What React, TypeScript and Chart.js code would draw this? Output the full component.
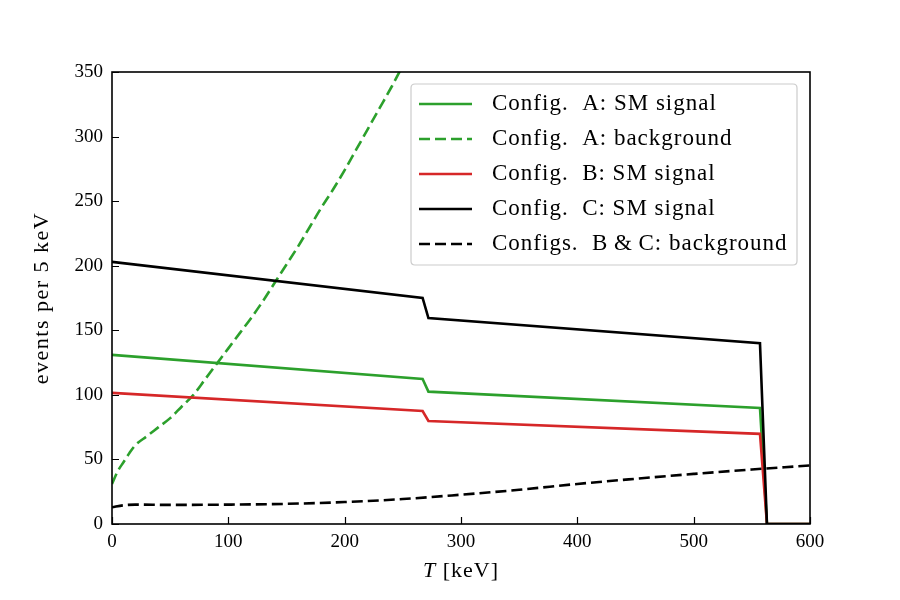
import React, { useEffect, useRef } from "react";
import { Chart, registerables } from "chart.js";

Chart.register(...registerables);

// Recoil energy T [keV] nodes of the SM signal spectra
const signalT = [0, 267, 272, 557, 563, 600];
const configASignal = [131, 112.3, 102.5, 89.8, 0, 0];
const configBSignal = [101.5, 87.5, 79.8, 69.8, 0, 0];
const configCSignal = [203, 175, 159.5, 140, 0, 0];

// Background spectrum, config. A
const bgAT = [0, 5, 10, 15, 20, 30, 40, 50, 60, 70, 80, 90, 100, 110, 120, 130, 140, 150, 160, 170, 180, 190, 200, 210, 220, 230, 240, 250, 260];
const bgA = [31, 41, 48, 55, 61, 68, 75, 82, 91, 100, 112, 124, 136, 148, 160, 173, 187, 201, 215, 230, 245, 259, 274, 290, 306, 322, 338, 355, 372];

// Background spectrum, configs. B & C
const bgBCT = [0, 10, 20, 50, 100, 150, 200, 250, 300, 350, 400, 450, 500, 550, 600];
const bgBC = [13, 14.5, 15, 14.8, 15, 15.6, 17, 19.3, 22.7, 26.5, 31, 35, 38.8, 42.2, 45.3];

const xTicks = [0, 100, 200, 300, 400, 500, 600];
const yTicks = [0, 50, 100, 150, 200, 250, 300, 350];

const legendLabels = [
  "Config.  A: SM signal",
  "Config.  A: background",
  "Config.  B: SM signal",
  "Config.  C: SM signal",
  "Configs.  B\u2009&\u2009C: background",
];

const GREEN = "#2ca02c";
const RED = "#d62728";
const BLACK = "#000000";
const FONT = "'Liberation Serif', 'DejaVu Serif', serif";
const DASH = [11, 5];

const pts = (xs: number[], ys: number[]) => xs.map((x, i) => ({ x, y: ys[i] }));

const framePlugin = {
  id: "frameAndLegend",
  afterDatasetsDraw(chart: any) {
    const { ctx, chartArea, scales } = chart;
    const { left, right, top, bottom } = chartArea;
    ctx.save();
    // inward tick marks on the left and bottom axes
    ctx.strokeStyle = "#000";
    ctx.lineWidth = 1.2;
    ctx.beginPath();
    for (const v of xTicks) {
      const px = Math.round(scales.x.getPixelForValue(v)) + 0.5;
      ctx.moveTo(px, bottom);
      ctx.lineTo(px, bottom - 7);
    }
    for (const v of yTicks) {
      const py = Math.round(scales.y.getPixelForValue(v)) + 0.5;
      ctx.moveTo(left, py);
      ctx.lineTo(left + 7, py);
    }
    ctx.stroke();
    // axes frame
    ctx.lineWidth = 1.6;
    ctx.strokeRect(left, top, right - left, bottom - top);

    // legend box
    const boxW = 386;
    const boxH = 181;
    const bx = right - 13 - boxW;
    const by = top + 12;
    const r = 4;
    ctx.beginPath();
    ctx.moveTo(bx + r, by);
    ctx.lineTo(bx + boxW - r, by);
    ctx.quadraticCurveTo(bx + boxW, by, bx + boxW, by + r);
    ctx.lineTo(bx + boxW, by + boxH - r);
    ctx.quadraticCurveTo(bx + boxW, by + boxH, bx + boxW - r, by + boxH);
    ctx.lineTo(bx + r, by + boxH);
    ctx.quadraticCurveTo(bx, by + boxH, bx, by + boxH - r);
    ctx.lineTo(bx, by + r);
    ctx.quadraticCurveTo(bx, by, bx + r, by);
    ctx.closePath();
    ctx.fillStyle = "rgba(255,255,255,0.8)";
    ctx.fill();
    ctx.strokeStyle = "#cccccc";
    ctx.lineWidth = 1.2;
    ctx.stroke();

    chart.data.datasets.forEach((ds: any, i: number) => {
      const cy = by + 20 + i * 35;
      ctx.beginPath();
      ctx.setLineDash(ds.borderDash || []);
      ctx.strokeStyle = ds.borderColor;
      ctx.lineWidth = ds.borderWidth;
      ctx.moveTo(bx + 8, cy);
      ctx.lineTo(bx + 61, cy);
      ctx.stroke();
      ctx.setLineDash([]);
      ctx.fillStyle = "#000";
      ctx.font = `23px ${FONT}`;
      ctx.letterSpacing = "1px";
      ctx.textBaseline = "middle";
      ctx.textAlign = "left";
      ctx.fillText(ds.label, bx + 81, cy);
      ctx.letterSpacing = "0px";
    });

    // axis titles
    ctx.fillStyle = "#000";
    ctx.textBaseline = "middle";
    ctx.font = `22px ${FONT}`;
    ctx.letterSpacing = "1.5px";
    ctx.save();
    ctx.translate(left - 70, (top + bottom) / 2);
    ctx.rotate(-Math.PI / 2);
    ctx.textAlign = "center";
    ctx.fillText("events per 5 keV", 0, 0);
    ctx.restore();

    ctx.letterSpacing = "1px";
    const cx = (left + right) / 2;
    const ty = bottom + 47;
    ctx.font = `italic 22px ${FONT}`;
    const wT = ctx.measureText("T").width;
    ctx.font = `22px ${FONT}`;
    const rest = " [keV]";
    const wR = ctx.measureText(rest).width;
    const x0 = cx - (wT + wR) / 2;
    ctx.textAlign = "left";
    ctx.font = `italic 22px ${FONT}`;
    ctx.fillText("T", x0, ty);
    ctx.font = `22px ${FONT}`;
    ctx.fillText(rest, x0 + wT, ty);
    ctx.letterSpacing = "0px";
    ctx.restore();
  },
};

export default function App() {
  const canvasRef = useRef<HTMLCanvasElement | null>(null);

  useEffect(() => {
    document.body.style.margin = "0";
    const canvas = canvasRef.current;
    if (!canvas) return;
    const mk = (label: string, data: any, color: string, dash: number[] | undefined, order: number, smooth: boolean) => ({
      label,
      data,
      borderColor: color,
      backgroundColor: color,
      borderWidth: 2.6,
      borderDash: dash,
      pointRadius: 0,
      fill: false,
      tension: smooth ? 0.4 : 0,
      cubicInterpolationMode: smooth ? ("monotone" as const) : ("default" as const),
      order,
    });
    const chart = new Chart(canvas, {
      type: "line",
      data: {
        datasets: [
          mk(legendLabels[0], pts(signalT, configASignal), GREEN, undefined, 5, false),
          mk(legendLabels[1], pts(bgAT, bgA), GREEN, DASH, 4, true),
          mk(legendLabels[2], pts(signalT, configBSignal), RED, undefined, 3, false),
          mk(legendLabels[3], pts(signalT, configCSignal), BLACK, undefined, 2, false),
          mk(legendLabels[4], pts(bgBCT, bgBC), BLACK, DASH, 1, true),
        ],
      },
      options: {
        animation: false,
        responsive: true,
        maintainAspectRatio: false,
        layout: { padding: { top: 72, right: 90, left: 0, bottom: 0 } },
        plugins: { legend: { display: false }, tooltip: { enabled: false } },
        scales: {
          x: {
            type: "linear",
            min: 0,
            max: 600,
            afterFit: (s: any) => {
              s.height = 76;
            },
            afterBuildTicks: (s: any) => {
              s.ticks = xTicks.map((v) => ({ value: v }));
            },
            grid: { display: false, drawTicks: false },
            border: { display: false },
            ticks: {
              color: "#000",
              font: { family: FONT, size: 19 },
              padding: 7,
              maxRotation: 0,
            },
          },
          y: {
            type: "linear",
            min: 0,
            max: 350,
            afterFit: (s: any) => {
              s.width = 112;
            },
            afterBuildTicks: (s: any) => {
              s.ticks = yTicks.map((v) => ({ value: v }));
            },
            grid: { display: false, drawTicks: false },
            border: { display: false },
            ticks: {
              color: "#000",
              font: { family: FONT, size: 19 },
              padding: 9,
            },
          },
        },
      },
      plugins: [framePlugin],
    });
    return () => chart.destroy();
  }, []);

  return (
    <div style={{ position: "fixed", left: 0, top: 0, width: 900, height: 600, background: "#fff" }}>
      <canvas ref={canvasRef} />
    </div>
  );
}
